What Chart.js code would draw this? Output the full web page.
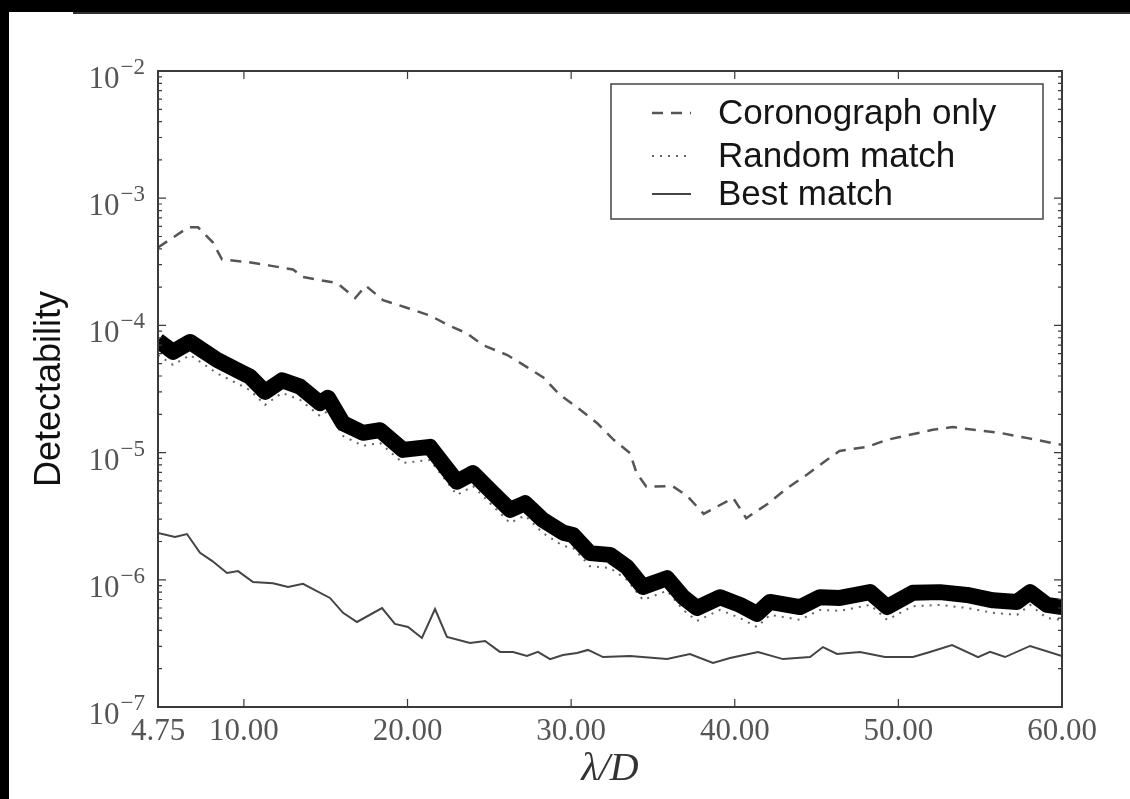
<!DOCTYPE html>
<html>
<head>
<meta charset="utf-8">
<script src="https://cdn.jsdelivr.net/npm/chart.js@4.4.0/dist/chart.umd.min.js"></script>
<style>
html,body{margin:0;padding:0;background:#000;width:1130px;height:799px;overflow:hidden}
#wrap{position:absolute;left:9px;top:12px;width:1121px;height:787px;background:#fff}
#edge{position:absolute;left:73px;top:12px;width:1057px;height:2px;background:#333}
canvas{display:block}
</style>
</head>
<body>
<div id="wrap"><canvas id="c" width="1121" height="787"></canvas></div>
<div id="edge"></div>
<script>
// ---- data ----
const xTicks = [4.75, 10, 20, 30, 40, 50, 60];
const yTicks = [1e-7, 1e-6, 1e-5, 1e-4, 1e-3, 1e-2];
const minorMult = [2, 3, 4, 5, 6, 7, 8, 9];

const coroX = [4.75, 6.6, 7.2, 8.1, 8.66, 10.2, 11.6, 13.0, 13.6, 15.7, 16.8, 17.45, 18.5, 20.0, 21.4, 22.6, 23.6, 24.6, 26.1, 27.3, 28.3, 29.3, 30.4, 31.6, 32.6, 33.6, 34.0, 34.6, 36.2, 37.1, 38.1, 39.9, 40.7, 42.0, 43.2, 44.4, 45.6, 46.4, 48.1, 49.3, 50.7, 52.1, 53.3, 54.6, 56.2, 57.9, 60];
const coroY = [4.1e-4, 5.9e-4, 5.9e-4, 4.5e-4, 3.3e-4, 3.15e-4, 2.95e-4, 2.75e-4, 2.4e-4, 2.15e-4, 1.64e-4, 2.05e-4, 1.58e-4, 1.37e-4, 1.19e-4, 9.9e-5, 8.7e-5, 7.0e-5, 5.85e-5, 4.7e-5, 3.9e-5, 2.85e-5, 2.25e-5, 1.7e-5, 1.26e-5, 9.9e-6, 6.9e-6, 5.4e-6, 5.45e-6, 4.55e-6, 3.3e-6, 4.4e-6, 3.05e-6, 3.95e-6, 5.25e-6, 6.7e-6, 8.7e-6, 1.03e-5, 1.11e-5, 1.26e-5, 1.38e-5, 1.51e-5, 1.59e-5, 1.51e-5, 1.43e-5, 1.3e-5, 1.15e-5];

const bandX = [4.75, 5.67, 6.71, 8.36, 9.58, 10.37, 11.29, 12.33, 13.43, 14.65, 15.14, 16.06, 17.28, 18.32, 19.72, 21.37, 23.02, 24.0, 25.22, 26.26, 27.18, 28.28, 29.5, 30.11, 31.15, 32.37, 33.41, 34.39, 35.86, 36.84, 37.69, 39.1, 40.32, 41.36, 42.15, 43.99, 45.21, 46.43, 48.27, 49.31, 50.89, 52.54, 54.19, 55.78, 57.25, 58.05, 59.08, 60];
const bandY = [7.6e-5, 6.2e-5, 7.4e-5, 5.35e-5, 4.45e-5, 3.95e-5, 3.0e-5, 3.7e-5, 3.3e-5, 2.45e-5, 2.7e-5, 1.7e-5, 1.43e-5, 1.5e-5, 1.05e-5, 1.11e-5, 5.9e-6, 6.9e-6, 4.8e-6, 3.55e-6, 4.0e-6, 2.95e-6, 2.35e-6, 2.25e-6, 1.62e-6, 1.57e-6, 1.26e-6, 8.8e-7, 1.03e-6, 7.3e-7, 6.0e-7, 7.3e-7, 6.35e-7, 5.4e-7, 6.7e-7, 6.1e-7, 7.3e-7, 7.2e-7, 8.0e-7, 6.1e-7, 7.9e-7, 8.0e-7, 7.6e-7, 6.9e-7, 6.7e-7, 8.0e-7, 6.35e-7, 6.1e-7];
const lowY = [5.85e-5, 4.9e-5, 5.85e-5, 4.2e-5, 3.5e-5, 3.1e-5, 2.37e-5, 2.95e-5, 2.6e-5, 1.94e-5, 2.12e-5, 1.35e-5, 1.13e-5, 1.19e-5, 8.3e-6, 8.75e-6, 4.65e-6, 5.45e-6, 3.8e-6, 2.8e-6, 3.2e-6, 2.33e-6, 1.85e-6, 1.78e-6, 1.28e-6, 1.24e-6, 1.0e-6, 6.95e-7, 8.2e-7, 5.8e-7, 4.75e-7, 5.8e-7, 5.0e-7, 4.25e-7, 5.3e-7, 4.85e-7, 5.8e-7, 5.7e-7, 6.35e-7, 4.85e-7, 6.2e-7, 6.35e-7, 6.0e-7, 5.5e-7, 5.3e-7, 6.35e-7, 5.0e-7, 4.85e-7];

const bestX = [4.75, 5.79, 6.52, 7.32, 8.05, 8.97, 9.64, 10.56, 11.78, 12.7, 13.61, 15.26, 16.06, 16.91, 18.44, 19.23, 20.03, 20.88, 21.68, 22.41, 23.82, 24.74, 25.65, 26.45, 27.3, 27.97, 28.71, 29.5, 30.36, 31.03, 31.95, 33.6, 35.86, 37.26, 38.67, 39.71, 41.42, 42.95, 44.6, 45.39, 46.25, 47.65, 49.18, 50.89, 51.93, 53.28, 54.87, 55.6, 56.52, 58.05, 60];
const bestY = [2.33e-6, 2.17e-6, 2.29e-6, 1.63e-6, 1.41e-6, 1.13e-6, 1.17e-6, 9.6e-7, 9.4e-7, 8.8e-7, 9.3e-7, 7.2e-7, 5.5e-7, 4.66e-7, 6.0e-7, 4.5e-7, 4.26e-7, 3.49e-7, 5.89e-7, 3.55e-7, 3.18e-7, 3.3e-7, 2.71e-7, 2.71e-7, 2.52e-7, 2.71e-7, 2.38e-7, 2.56e-7, 2.66e-7, 2.81e-7, 2.47e-7, 2.52e-7, 2.38e-7, 2.61e-7, 2.22e-7, 2.43e-7, 2.71e-7, 2.38e-7, 2.47e-7, 2.96e-7, 2.61e-7, 2.71e-7, 2.47e-7, 2.47e-7, 2.71e-7, 3.07e-7, 2.47e-7, 2.71e-7, 2.47e-7, 3.02e-7, 2.52e-7];

const legendLabels = ['Coronograph only', 'Random match', 'Best match'];

// ---- helpers ----
const pts = (xs, ys) => xs.map((x, i) => ({x: x, y: ys[i]}));
const AXIS = '#3a3a3a';
const TICKCOL = '#555';
const SERIF = '"Liberation Serif", "Times New Roman", serif';

const frameTicks = {
  id: 'frameTicks',
  afterDatasetsDraw(chart) {
    const {ctx, chartArea: a, scales: {x, y}} = chart;
    ctx.save();
    ctx.strokeStyle = AXIS;
    ctx.lineWidth = 1.2;
    ctx.beginPath();
    xTicks.forEach(v => {
      const px = x.getPixelForValue(v);
      ctx.moveTo(px, a.bottom); ctx.lineTo(px, a.bottom - 8);
      ctx.moveTo(px, a.top); ctx.lineTo(px, a.top + 8);
    });
    yTicks.forEach((v, i) => {
      const py = y.getPixelForValue(v);
      ctx.moveTo(a.left, py); ctx.lineTo(a.left + 8, py);
      ctx.moveTo(a.right, py); ctx.lineTo(a.right - 8, py);
      if (i < yTicks.length - 1) {
        minorMult.forEach(m => {
          const q = y.getPixelForValue(v * m);
          ctx.moveTo(a.left, q); ctx.lineTo(a.left + 4, q);
          ctx.moveTo(a.right, q); ctx.lineTo(a.right - 4, q);
        });
      }
    });
    ctx.stroke();
    ctx.lineWidth = 2;
    ctx.strokeRect(a.left, a.top, a.right - a.left, a.bottom - a.top);
    ctx.restore();
  }
};

// y tick labels in "10^n" form with a raised exponent, placed from the log scale
const powerLabels = {
  id: 'powerLabels',
  afterDraw(chart) {
    const {ctx, chartArea: a, scales: {y}} = chart;
    ctx.save();
    ctx.fillStyle = TICKCOL;
    ctx.textAlign = 'right';
    ctx.textBaseline = 'alphabetic';
    const xr = a.left - 13;
    y.ticks.forEach(t => {
      const py = y.getPixelForValue(t.value);
      const expo = '\u2212' + String(Math.abs(Math.round(Math.log10(t.value))));
      ctx.font = '23px ' + SERIF;
      const w = ctx.measureText(expo).width;
      ctx.fillText(expo, xr, py + 3);
      ctx.font = '31px ' + SERIF;
      ctx.fillText('10', xr - w - 1, py + 17);
    });
    ctx.restore();
  }
};

const legendBox = {
  id: 'legendBox',
  afterDraw(chart) {
    const {ctx, chartArea: a} = chart;
    const bx = a.right - 451, by = a.top + 13, bw = 432, bh = 135;
    const rows = [29, 72, 110];
    const sets = [chart.data.datasets[0], chart.data.datasets[2], chart.data.datasets[3]];
    ctx.save();
    ctx.fillStyle = '#fff';
    ctx.fillRect(bx, by, bw, bh);
    ctx.strokeStyle = '#444';
    ctx.lineWidth = 1.5;
    ctx.strokeRect(bx, by, bw, bh);
    sets.forEach((ds, i) => {
      const yy = by + rows[i];
      ctx.save();
      ctx.strokeStyle = ds.borderColor;
      ctx.lineWidth = ds.borderWidth;
      ctx.setLineDash(ds.borderDash || []);
      ctx.beginPath();
      ctx.moveTo(bx + 41, yy); ctx.lineTo(bx + 80, yy);
      ctx.stroke();
      ctx.restore();
      ctx.fillStyle = '#151515';
      ctx.font = '35px "Liberation Sans", Arial, sans-serif';
      ctx.textBaseline = 'middle';
      ctx.textAlign = 'left';
      ctx.fillText(legendLabels[i], bx + 107, yy + 1);
    });
    ctx.restore();
  }
};

new Chart(document.getElementById('c'), {
  type: 'line',
  data: {
    datasets: [
      {label: legendLabels[0], data: pts(coroX, coroY), borderColor: '#555', borderWidth: 2.5, borderDash: [11, 8], pointRadius: 0, fill: false, clip: 0},
      {label: 'Random match (ensemble)', data: pts(bandX, bandY), borderColor: '#000', borderWidth: 16, borderJoinStyle: 'round', pointRadius: 0, fill: false, clip: 0},
      {label: legendLabels[1], data: pts(bandX, lowY), borderColor: '#666', borderWidth: 2, borderDash: [2, 6], pointRadius: 0, fill: false, clip: 0},
      {label: legendLabels[2], data: pts(bestX, bestY), borderColor: '#444', borderWidth: 2, pointRadius: 0, fill: false, clip: 0}
    ]
  },
  options: {
    responsive: false,
    animation: false,
    devicePixelRatio: 1,
    layout: {padding: {left: 0, top: 59, right: 68, bottom: 0}},
    plugins: {legend: {display: false}, tooltip: {enabled: false}},
    scales: {
      x: {
        type: 'linear', min: 4.75, max: 60,
        afterBuildTicks: s => { s.ticks = xTicks.map(v => ({value: v})); },
        afterFit: s => { s.height = 92; },
        grid: {display: false, drawTicks: false},
        border: {display: false},
        ticks: {font: {family: SERIF, size: 31}, color: TICKCOL, padding: 6, maxRotation: 0, autoSkip: false,
          callback: v => Number(v).toFixed(2)},
        title: {display: true, text: 'λ/D', font: {family: SERIF, size: 40, style: 'italic'}, color: '#333', padding: {top: 0, bottom: 6}}
      },
      y: {
        type: 'logarithmic', min: 1e-7, max: 1e-2,
        afterBuildTicks: s => { s.ticks = yTicks.map(v => ({value: v})); },
        afterFit: s => { s.width = 149; },
        grid: {display: false, drawTicks: false},
        border: {display: false},
        ticks: {display: false},
        title: {display: true, text: 'Detectability', font: {family: '"Liberation Sans", Arial, sans-serif', size: 36}, color: '#111', padding: {top: 19, bottom: 0}}
      }
    }
  },
  plugins: [frameTicks, powerLabels, legendBox]
});
</script>
</body>
</html>
